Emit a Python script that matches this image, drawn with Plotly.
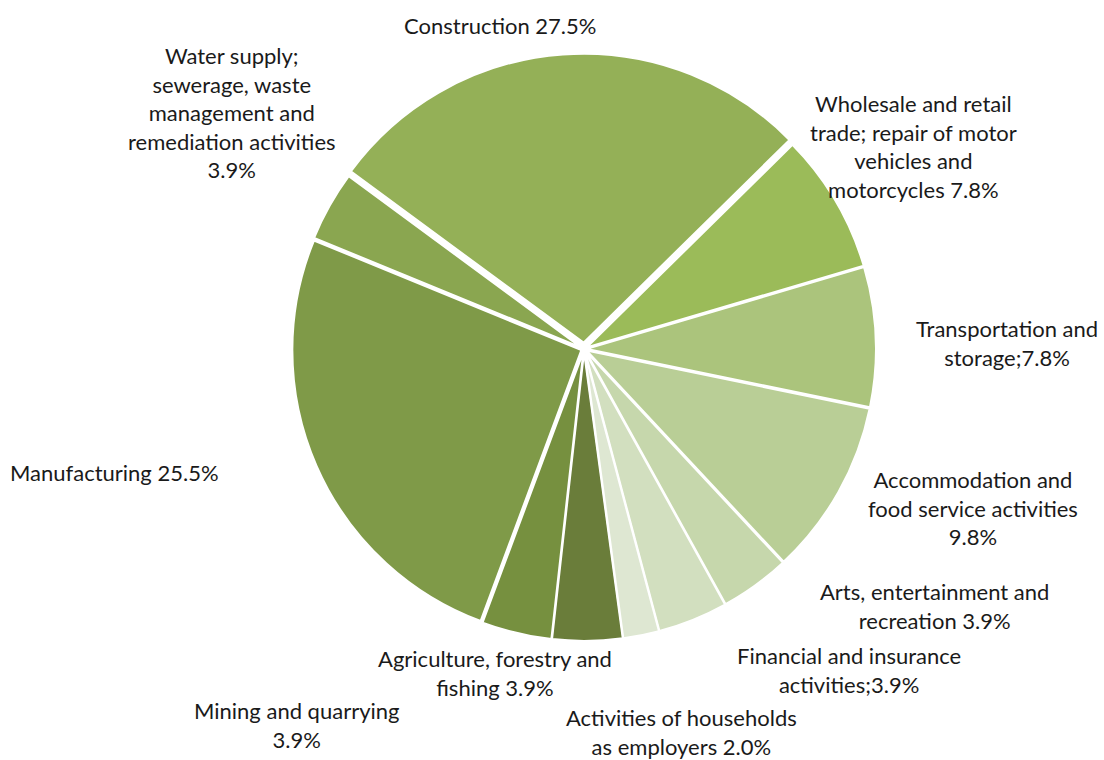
import plotly.graph_objects as go

# Share of enterprises by economic activity (%), clockwise order
sectors = [
    "Agriculture, forestry and fishing",
    "Mining and quarrying",
    "Manufacturing",
    "Water supply; sewerage, waste management and remediation activities",
    "Construction",
    "Wholesale and retail trade; repair of motor vehicles and motorcycles",
    "Transportation and storage",
    "Accommodation and food service activities",
    "Arts, entertainment and recreation",
    "Financial and insurance activities",
    "Activities of households as employers",
]
shares = [3.9, 3.9, 25.5, 3.9, 27.5, 7.8, 7.8, 9.8, 3.9, 3.9, 2.0]

# Wrapped label lines; "{v}" is replaced by the share
label_lines = [
    "Agriculture, forestry and<br>fishing {v}%",
    "Mining and quarrying<br>{v}%",
    "Manufacturing {v}%",
    "Water supply;<br>sewerage, waste<br>management and<br>remediation activities<br>{v}%",
    "Construction {v}%",
    "Wholesale and retail<br>trade; repair of motor<br>vehicles and<br>motorcycles {v}%",
    "Transportation and<br>storage;{v}%",
    "Accommodation and<br>food service activities<br>{v}%",
    "Arts, entertainment and<br>recreation {v}%",
    "Financial and insurance<br>activities;{v}%",
    "Activities of households<br>as employers {v}%",
]

colors = ["#6A7D3A", "#76903F", "#7F9A48", "#8AA650", "#94B057", "#9BBB59",
          "#ABC47C", "#B9CE96", "#C6D7AC", "#D2DFBF", "#DEE7D2"]
pulls = [0.01, 0.01, 0.01, 0.01, 0.022, 0.01, 0.01, 0.01, 0.01, 0.01, 0.01]

# Label anchor points in pixels (x, y from top)
label_pos = [(495, 673), (296, 725), (114, 472), (232, 112), (500, 26),
             (913, 146), (1007, 343), (973, 508), (934, 606), (849, 670), (681, 732)]

W, H = 1104, 760
cx, cy, r = 584, 349, 289
half = r * (1 + max(pulls))

fig = go.Figure(go.Pie(
    labels=sectors,
    values=shares,
    sort=False,
    direction="clockwise",
    rotation=172.3,
    pull=pulls,
    marker=dict(colors=colors, line=dict(color="white", width=2)),
    textinfo="none",
    hoverinfo="label+percent",
    showlegend=False,
    domain=dict(x=[(cx - half) / W, (cx + half) / W],
                y=[(H - cy - half) / H, (H - cy + half) / H]),
))

for txt, v, (px, py) in zip(label_lines, shares, label_pos):
    fig.add_annotation(
        x=px / W, y=1 - py / H, xref="paper", yref="paper",
        text=txt.format(v=f"{v:.1f}"), showarrow=False,
        xanchor="center", yanchor="middle", align="center",
        font=dict(family="Lato, Carlito, sans-serif", size=22, color="#1a1a1a"),
    )

fig.update_layout(
    width=W, height=H,
    margin=dict(l=0, r=0, t=0, b=0),
    paper_bgcolor="white",
    plot_bgcolor="white",
)

fig.write_html("out.html")
